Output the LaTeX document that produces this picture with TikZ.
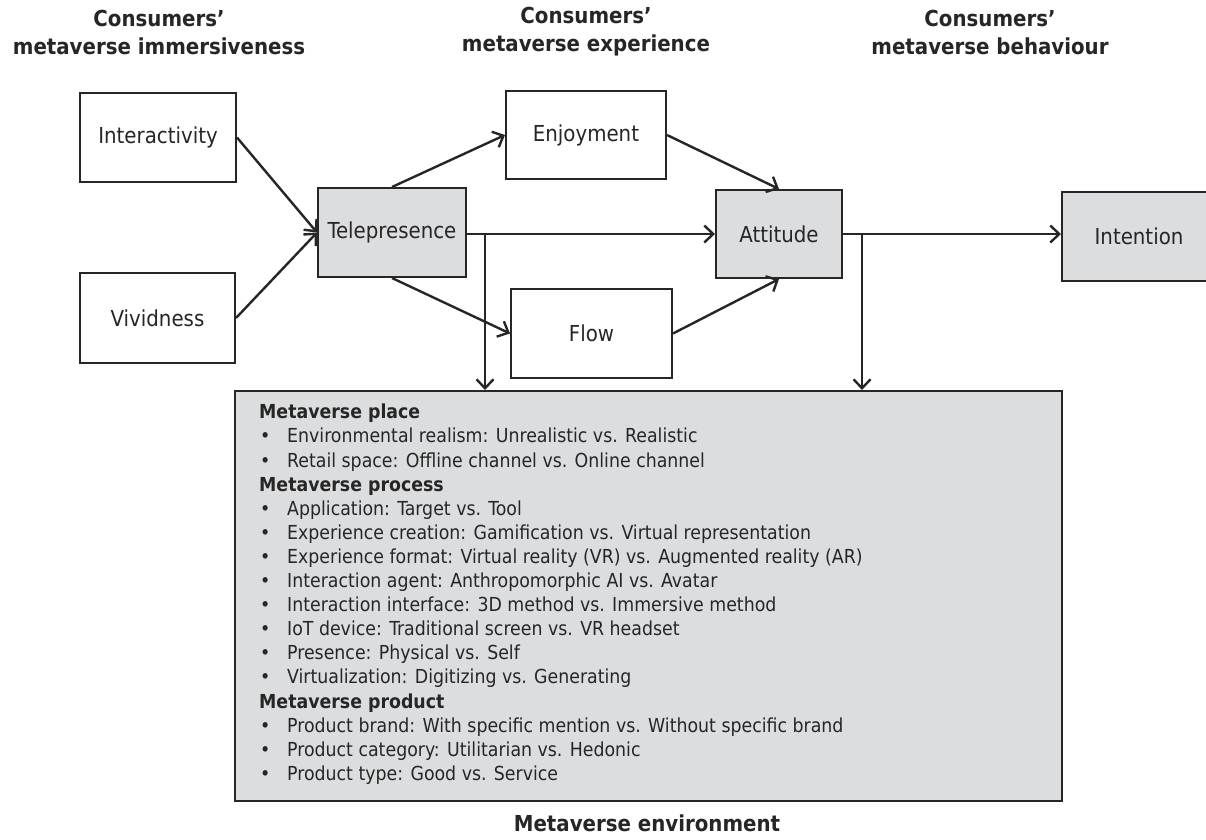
\documentclass[tikz,border=0pt]{standalone}
\usepackage{fontspec}
\setmainfont{DejaVu Sans Condensed}
\usetikzlibrary{arrows.meta,calc}
\definecolor{boxgray}{HTML}{DCDDDF}
\definecolor{ink}{HTML}{262626}
\tikzset{
  plainbox/.style={draw=ink,line width=2pt,fill=white,rectangle,inner sep=0pt,font=\fontsize{22}{26}\selectfont,text=ink},
  graybox/.style={plainbox,fill=boxgray},
  conn/.style={draw=ink,line width=2.4pt,-{Straight Barb[length=9pt,width=17pt,line width=2.4pt]}},
  header/.style={font=\bfseries\fontsize{22}{28}\selectfont,align=center,text=ink,inner sep=0pt}
}
\newcommand{\bitem}[1]{\makebox[28pt][l]{\hspace{1pt}•}#1\\}
\begin{document}
\begin{tikzpicture}[x=1pt,y=-1pt]
\useasboundingbox (0,0) rectangle (1206,839);
% headers
\node[header] (h1) at (159,32) {Consumers’\\metaverse immersiveness};
\node[header] (h2) at (586,32) {Consumers’\\metaverse experience};
\node[header] (h3) at (990,32) {Consumers’\\metaverse behaviour};
% nodes
\node[plainbox,minimum width=156pt,minimum height=89pt] (inter) at (158,137.5) {Interactivity};
\node[plainbox,minimum width=155pt,minimum height=90pt] (vivid) at (157.5,318) {Vividness};
\node[graybox,minimum width=148pt,minimum height=89pt] (tele) at (392,232.5) {Telepresence};
\node[plainbox,minimum width=160pt,minimum height=88pt] (enjoy) at (586,135) {Enjoyment};
\node[plainbox,minimum width=161pt,minimum height=89pt] (flow) at (591.5,333.5) {Flow};
\node[graybox,minimum width=126pt,minimum height=88pt] (att) at (779,234) {Attitude};
\node[graybox,minimum width=180pt,minimum height=89pt,anchor=west] (intent) at (1061,236.5) {\hspace*{-26pt}Intention};
\node[graybox,minimum width=827pt,minimum height=410pt] (env) at (648.5,596) {};
% box text
\node[anchor=north west,inner sep=0pt,align=left,text=ink,font=\fontsize{19.3}{24.1}\selectfont] (envtext) at (259,404) {%
\textbf{Metaverse place}\\
\bitem{Environmental realism: Unrealistic vs. Realistic}
\bitem{Retail space: Offline channel vs. Online channel}
\textbf{Metaverse process}\\
\bitem{Application: Target vs. Tool}
\bitem{Experience creation: Gamification vs. Virtual representation}
\bitem{Experience format: Virtual reality (VR) vs. Augmented reality (AR)}
\bitem{Interaction agent: Anthropomorphic AI vs. Avatar}
\bitem{Interaction interface: 3D method vs. Immersive method}
\bitem{IoT device: Traditional screen vs. VR headset}
\bitem{Presence: Physical vs. Self}
\bitem{Virtualization: Digitizing vs. Generating}
\textbf{Metaverse product}\\
\bitem{Product brand: With specific mention vs. Without specific brand}
\bitem{Product category: Utilitarian vs. Hedonic}
\makebox[28pt][l]{\hspace{1pt}•}Product type: Good vs. Service};
\node[header] (envlabel) at (647,823) {Metaverse environment};
% connectors
\draw[conn] (inter.east) -- (tele.west);
\draw[conn] (vivid.east) -- (tele.west);
\draw[conn] (tele.north) -- (enjoy.west);
\draw[conn] (tele.south) -- (flow.west);
\draw[conn] (enjoy.east) -- (att.north);
\draw[conn] (flow.east) -- (att.south);
\draw[conn] (tele.east |- att.west) -- (att.west);
\draw[conn] (att.east) -- (att.east -| intent.west);
\coordinate (b1) at (485,234);
\coordinate (b2) at (862,234);
\draw[conn] (b1) -- (b1 |- env.north);
\draw[conn] (b2) -- (b2 |- env.north);
\end{tikzpicture}
\end{document}
